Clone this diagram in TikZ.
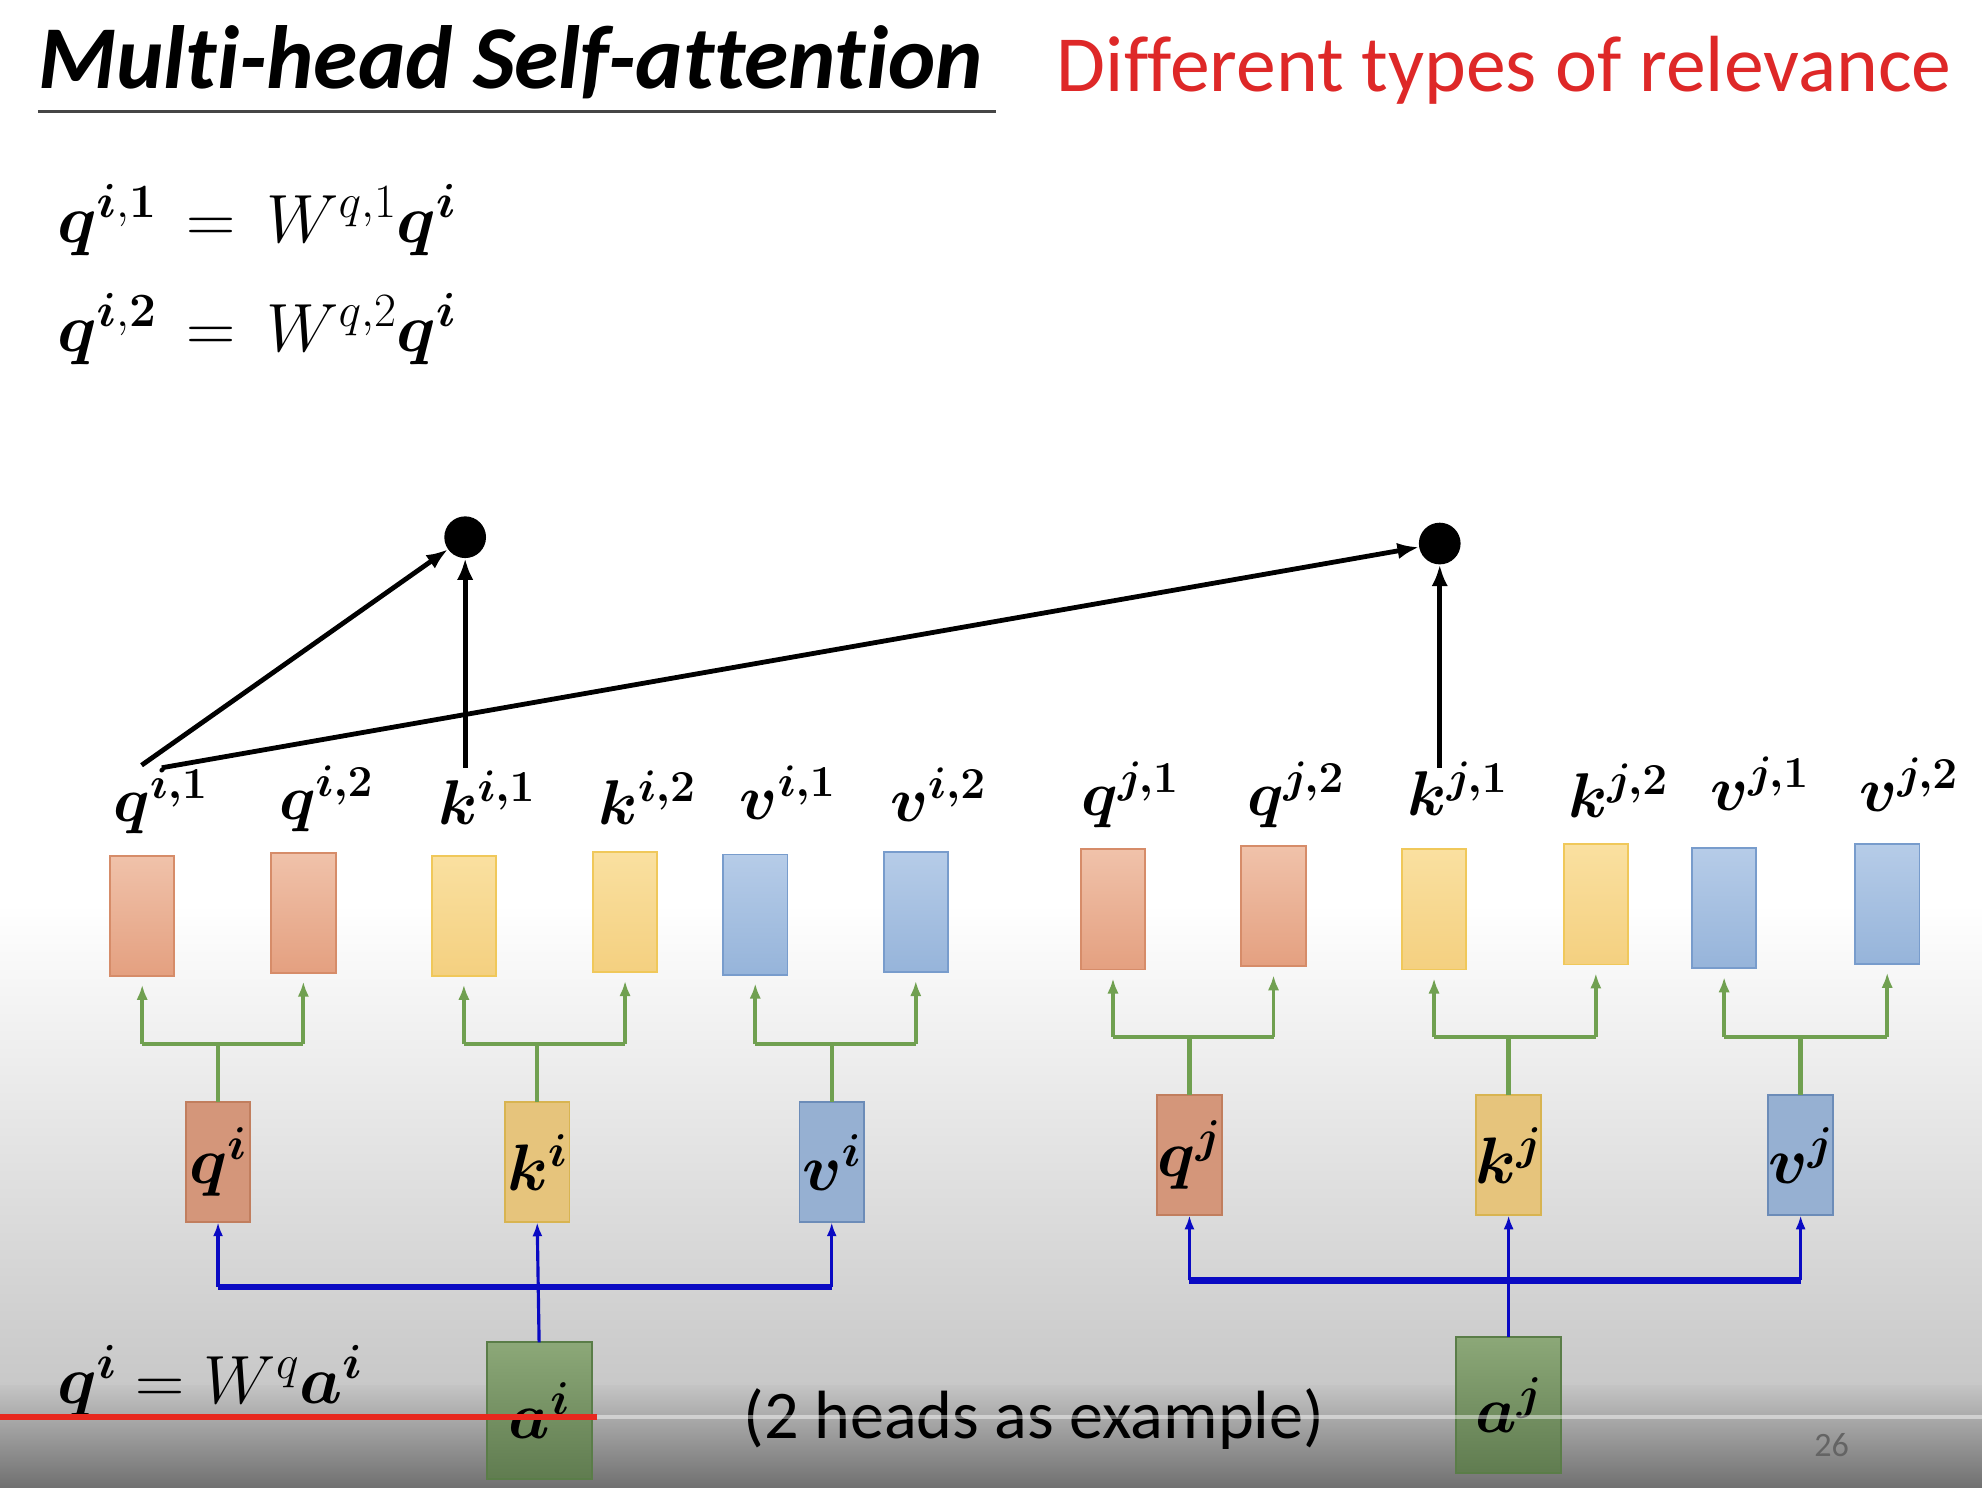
\RequirePackage{fix-cm}
\documentclass[tikz,border=0pt]{standalone}
\usepackage{amsmath,bm}
\usepackage{fontspec}
\newfontfamily\calibri[Ligatures={NoCommon,NoRare}]{Carlito}
\usepackage{tikz}
\usetikzlibrary{arrows.meta}

\definecolor{qtop}{RGB}{240,194,170}
\definecolor{qbot}{RGB}{228,160,128}
\definecolor{qline}{RGB}{214,140,105}
\definecolor{ktop}{RGB}{250,224,160}
\definecolor{kbot}{RGB}{244,208,128}
\definecolor{kline}{RGB}{240,200,90}
\definecolor{vtop}{RGB}{182,204,232}
\definecolor{vbot}{RGB}{150,180,218}
\definecolor{vline}{RGB}{120,156,204}
\definecolor{qdark}{RGB}{212,150,122}
\definecolor{kdark}{RGB}{230,196,124}
\definecolor{vdark}{RGB}{150,176,210}
\definecolor{atop}{RGB}{140,168,120}
\definecolor{abot}{RGB}{96,124,80}
\definecolor{aline}{RGB}{90,125,72}
\definecolor{forkgreen}{RGB}{112,160,80}
\definecolor{forkblue}{RGB}{10,10,195}
\definecolor{titlered}{RGB}{222,40,40}

\begin{document}
\begin{tikzpicture}[x=1pt,y=-1pt,
  box/.style={inner sep=0pt,outer sep=0pt,minimum width=51pt,minimum height=95pt,line width=1.5pt},
  qbox/.style={box,top color=qtop,bottom color=qbot,draw=qline},
  kbox/.style={box,top color=ktop,bottom color=kbot,draw=kline},
  vbox/.style={box,top color=vtop,bottom color=vbot,draw=vline},
  qsrc/.style={box,fill=qdark,draw=qline!90!black},
  ksrc/.style={box,fill=kdark,draw=kline!90!black},
  vsrc/.style={box,fill=vdark,draw=vline!90!black},
  abox/.style={box,minimum width=83pt,minimum height=108pt,top color=atop,bottom color=abot,draw=aline},
  lbl/.style={inner sep=0pt,anchor=base,font=\fontsize{50}{54}\selectfont},
  inlbl/.style={font=\fontsize{52}{56}\selectfont},
  dot/.style={circle,fill=black,inner sep=0pt,minimum size=33pt},
  attn/.style={line width=3.8pt,-{Latex[length=17pt,width=13pt]}},
  fork/.style={draw=forkgreen,line width=3.5pt},
  forkarrow/.style={draw=forkgreen,line width=3pt,-{Latex[length=12pt,width=9pt]},shorten >=7pt},
  feed/.style={draw=forkblue,line width=2.5pt,-{Latex[length=11pt,width=8pt]}},
  feedbar/.style={draw=forkblue,line width=5pt}]
\path[use as bounding box] (0,0) rectangle (1568,1177);
\path[fill=white] (0,0) rectangle (1568,1177);
\shade[top color=white,bottom color={rgb,255:red,200;green,200;blue,200}] (0,715) rectangle (1568,1096);
\shade[top color={rgb,255:red,196;green,196;blue,196},bottom color={rgb,255:red,112;green,112;blue,112}] (0,1096) rectangle (1568,1177);

% title
\node[inner sep=0pt,anchor=base west,font=\calibri\bfseries\itshape\fontsize{71}{75}\selectfont] (title) at (30,70) {Multi-head Self-attention};
\draw[line width=2.5pt,draw={rgb,255:red,70;green,70;blue,70}] (30,88) -- (788,88);
\node[inner sep=0pt,anchor=base west,text=titlered,font=\calibri\fontsize{63}{67}\selectfont] (relevance) at (836,72) {Different types of relevance};

% equations
\node[inner sep=0pt,anchor=base west,font=\fontsize{54}{58}\selectfont] (eqone) at (45,192) {$\bm{q}^{\bm{i},\bm{1}}\mkern3mu=\mkern3mu W^{q,1}\bm{q^i}$};
\node[inner sep=0pt,anchor=base west,font=\fontsize{54}{58}\selectfont] (eqtwo) at (45,278) {$\bm{q}^{\bm{i},\bm{2}}\mkern3mu=\mkern3mu W^{q,2}\bm{q^i}$};
\node[inner sep=0pt,anchor=base west,font=\fontsize{54}{58}\selectfont] (eqsrc) at (45,1110) {$\bm{q^i}=W^q\bm{a^i}$};

% head outputs
\node[qbox] (qi1) at (112.5,724.5) {};
\node[qbox] (qi2) at (240,722) {};
\node[kbox] (ki1) at (367,724.5) {};
\node[kbox] (ki2) at (494.5,721.5) {};
\node[vbox] (vi1) at (597.5,723.5) {};
\node[vbox] (vi2) at (724.5,721.5) {};
\node[qbox] (qj1) at (880.5,719.5) {};
\node[qbox] (qj2) at (1007.5,717) {};
\node[kbox] (kj1) at (1134.5,719.5) {};
\node[kbox] (kj2) at (1262.5,715.5) {};
\node[vbox] (vj1) at (1364,718.5) {};
\node[vbox] (vj2) at (1493,715) {};

\node[lbl] (lqi1) at (127,650) {$\bm{q^{i,1}}$};
\node[lbl] (lqi2) at (258,648) {$\bm{q^{i,2}}$};
\node[lbl] (lki1) at (385,652) {$\bm{k^{i,1}}$};
\node[lbl] (lki2) at (512,652) {$\bm{k^{i,2}}$};
\node[lbl] (lvi1) at (623,648) {$\bm{v^{i,1}}$};
\node[lbl] (lvi2) at (742,650) {$\bm{v^{i,2}}$};
\node[lbl] (lqj1) at (894,645) {$\bm{q^{j,1}}$};
\node[lbl] (lqj2) at (1025,645) {$\bm{q^{j,2}}$};
\node[lbl] (lkj1) at (1153,645) {$\bm{k^{j,1}}$};
\node[lbl] (lkj2) at (1280,647) {$\bm{k^{j,2}}$};
\node[lbl] (lvj1) at (1392,641) {$\bm{v^{j,1}}$};
\node[lbl] (lvj2) at (1510,642) {$\bm{v^{j,2}}$};

% attention scores
\node[dot] (sii) at (368,425) {};
\node[dot] (sij) at (1139,430) {};
\draw[attn] ([xshift=-15pt,yshift=2pt]lqi1.north) -- (sii);
\draw[attn] ([xshift=1pt,yshift=0pt]lqi1.north) -- (sij);
\draw[attn] ([xshift=-17pt,yshift=2pt]lki1.north) -- (sii);
\draw[attn] ([xshift=-14pt,yshift=-5pt]lkj1.north) -- (sij);

% q k v
\node[qsrc] (qi) at (172.5,919.5) {}; \node[inlbl] at (qi) {$\bm{q^i}$};
\node[ksrc] (ki) at (425,919.5) {}; \node[inlbl] at (ki) {$\bm{k^i}$};
\node[vsrc] (vi) at (658,919.5) {}; \node[inlbl] at (vi) {$\bm{v^i}$};
\node[qsrc] (qj) at (941,914) {}; \node[inlbl] at (qj) {$\bm{q^j}$};
\node[ksrc] (kj) at (1193.5,914) {}; \node[inlbl] at (kj) {$\bm{k^j}$};
\node[vsrc] (vj) at (1424.5,914) {}; \node[inlbl] at (vj) {$\bm{v^j}$};

% split into heads
\foreach \m/\a/\b in {qi/qi1/qi2,ki/ki1/ki2,vi/vi1/vi2,qj/qj1/qj2,kj/kj1/kj2,vj/vj1/vj2} {
  \coordinate (g\m) at ([yshift=46pt]\m.north);
  \draw[fork] (\m.north) -- (g\m);
  \draw[fork] (\a.south |- g\m) -- (\b.south |- g\m);
  \draw[forkarrow] (\a.south |- g\m) -- (\a.south);
  \draw[forkarrow] (\b.south |- g\m) -- (\b.south);
}

% inputs
\node[abox] (ai) at (426.5,1116) {};
\node[abox] (aj) at (1193.5,1111.5) {};
\node[inlbl] at (ai) {$\bm{a^i}$};
\node[inlbl] at (aj) {$\bm{a^j}$};

\coordinate (bi) at (427,1018);
\coordinate (bj) at (1195,1013);
\draw[feedbar] (qi.south |- bi) -- (vi.south |- bi);
\draw[feedbar] (qj.south |- bj) -- (vj.south |- bj);
\draw[feed] (ai.north) -- (ki.south);
\draw[feed] (qi.south |- bi) -- (qi.south);
\draw[feed] (vi.south |- bi) -- (vi.south);
\draw[feed] (aj.north) -- (kj.south);
\draw[feed] (qj.south |- bj) -- (qj.south);
\draw[feed] (vj.south |- bj) -- (vj.south);

\node[inner sep=0pt,anchor=base west,font=\calibri\fontsize{54}{58}\selectfont] (note) at (588,1138) {(2 heads as example)};
\node[inner sep=0pt,anchor=base,text={rgb,255:red,100;green,100;blue,100},font=\calibri\fontsize{27}{29}\selectfont] (page) at (1449,1152) {26};

% player bar
\draw[line width=4pt,draw={rgb,255:red,232;green,40;blue,30}] (0,1121) -- (472,1121);
\draw[line width=3pt,draw=white,opacity=0.45] (472,1121) -- (1568,1121);
\end{tikzpicture}
\end{document}
